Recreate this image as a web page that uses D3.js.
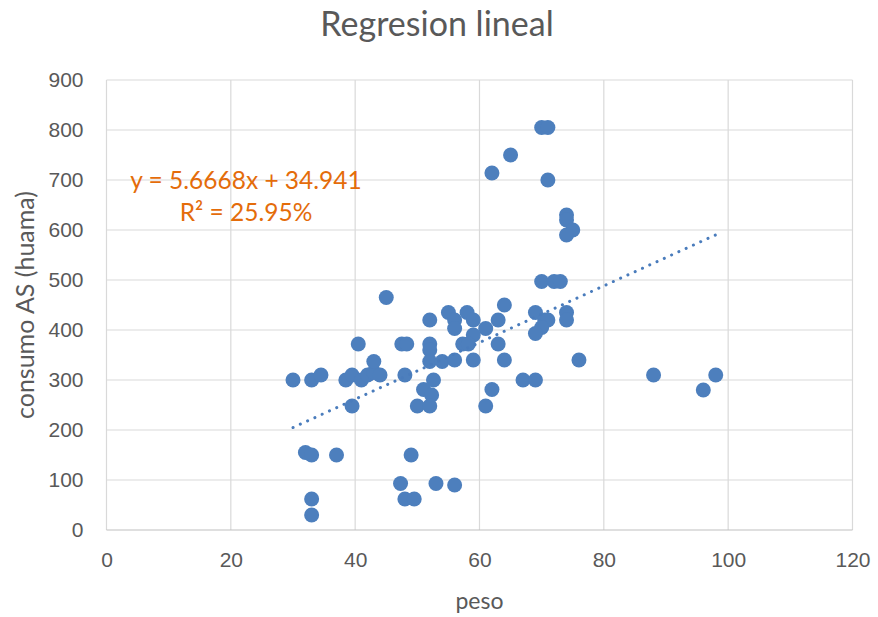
<!DOCTYPE html>
<html>
<head>
<meta charset="utf-8">
<script src="https://cdn.jsdelivr.net/npm/d3@7"></script>
<style>
  html, body { margin: 0; padding: 0; background: #ffffff; }
  svg { display: block; font-family: Lato, "Open Sans", sans-serif; }
</style>
</head>
<body>
<svg id="chart" width="878" height="617"></svg>
<script>
// peso (x) and consumo AS (y) per observation
const peso = [
  30, 33, 34.5, 38.5, 39.5, 41, 42, 43, 44, 40.5, 43, 45, 47.5, 48.3, 48, 39.5,
  32, 33, 37, 49, 33, 33, 47.3, 48, 49.5, 53, 56,
  52, 52, 52, 52, 54, 56, 59, 64, 76, 52.6, 51, 52.3, 50, 52, 61, 62, 67, 69,
  55, 58, 56, 56, 59, 63, 61, 59, 57.3, 58.2, 63, 64,
  69, 70.5, 71, 70, 69, 74, 74, 70, 72, 73,
  74, 74, 75, 74, 71, 62, 65, 70, 71, 88, 98, 96
];
const consumo = [
  300, 300, 310, 300, 310, 300, 310, 315, 310, 372, 337, 465, 372, 372, 310, 248,
  155, 150, 150, 150, 62, 30, 93, 62, 62, 93, 90,
  420, 372, 360, 337, 337, 340, 340, 340, 340, 300, 281, 270, 248, 248, 248, 281, 300, 300,
  435, 435, 420, 403, 420, 420, 403, 390, 372, 372, 372, 450,
  435, 420, 420, 405, 393, 435, 420, 497, 497, 497,
  630, 620, 600, 590, 700, 714, 750, 805, 805, 310, 310, 280
];

// Linear trend reported for the series
const slope = 5.6668;
const intercept = 34.941;
const rSquaredLabel = "25.95%";

const xTicks = [0, 20, 40, 60, 80, 100, 120];
const yTicks = [0, 100, 200, 300, 400, 500, 600, 700, 800, 900];

const svg = d3.select("#chart");
const margin = { left: 106.5, right: 25.5, top: 80, bottom: 87 };
const W = 878, H = 617;

const x = d3.scaleLinear().domain([0, 120]).range([margin.left, W - margin.right]);
const y = d3.scaleLinear().domain([0, 900]).range([H - margin.bottom, margin.top]);

const gridColor = "#d9d9d9";
const textColor = "#595959";

// vertical gridlines
svg.append("g")
  .selectAll("line")
  .data(xTicks)
  .join("line")
  .attr("x1", d => x(d)).attr("x2", d => x(d))
  .attr("y1", y(900)).attr("y2", y(0))
  .attr("stroke", gridColor).attr("stroke-width", 1.2);

// horizontal gridlines
svg.append("g")
  .selectAll("line")
  .data(yTicks)
  .join("line")
  .attr("x1", x(0)).attr("x2", x(120))
  .attr("y1", d => y(d)).attr("y2", d => y(d))
  .attr("stroke", d => d === 0 ? "#bfbfbf" : gridColor)
  .attr("stroke-width", 1.2);

// axes (labels only, lines drawn as grid)
const xAxis = d3.axisBottom(x).tickValues(xTicks).tickSize(0).tickPadding(0);
const gx = svg.append("g").attr("transform", `translate(0,${y(0) + 30})`).call(xAxis);
gx.select(".domain").remove();
gx.selectAll("text").attr("fill", textColor).attr("font-size", 21).attr("dy", "0.35em");

const yAxis = d3.axisLeft(y).tickValues(yTicks).tickSize(0).tickPadding(0);
const gy = svg.append("g").attr("transform", `translate(${x(0) - 23},0)`).call(yAxis);
gy.select(".domain").remove();
gy.selectAll("text").attr("fill", textColor).attr("font-size", 21);

// title
svg.append("text")
  .attr("x", 437).attr("y", 36)
  .attr("text-anchor", "middle")
  .attr("fill", textColor).attr("font-size", 34)
  .text("Regresion lineal");

// axis titles
svg.append("text")
  .attr("x", x(60)).attr("y", 609)
  .attr("text-anchor", "middle")
  .attr("fill", textColor).attr("font-size", 23)
  .text("peso");

svg.append("text")
  .attr("transform", `translate(34,${y(450)}) rotate(-90)`)
  .attr("text-anchor", "middle")
  .attr("fill", textColor).attr("font-size", 25)
  .text("consumo AS (huama)");

// data points
const pts = peso.map((p, i) => ({ p, c: consumo[i] }));
svg.append("g")
  .selectAll("circle")
  .data(pts)
  .join("circle")
  .attr("cx", d => x(d.p))
  .attr("cy", d => y(d.c))
  .attr("r", 7.5)
  .attr("fill", "#4d7fbd");

// dotted linear trendline across the data range
const xMin = d3.min(peso), xMax = d3.max(peso);
svg.append("line")
  .attr("x1", x(xMin)).attr("y1", y(slope * xMin + intercept))
  .attr("x2", x(xMax)).attr("y2", y(slope * xMax + intercept))
  .attr("stroke", "#4a7cbc")
  .attr("stroke-width", 3)
  .attr("stroke-linecap", "round")
  .attr("stroke-dasharray", "0.1 7.9");

// trendline equation label
const eqColor = "#e46c0a";
svg.append("text")
  .attr("x", 246).attr("y", 189)
  .attr("text-anchor", "middle")
  .attr("fill", eqColor).attr("font-size", 24.5)
  .text(`y = ${slope}x + ${intercept}`);
svg.append("text")
  .attr("x", 246).attr("y", 221)
  .attr("text-anchor", "middle")
  .attr("fill", eqColor).attr("font-size", 24.5)
  .text(`R² = ${rSquaredLabel}`);
</script>
</body>
</html>
